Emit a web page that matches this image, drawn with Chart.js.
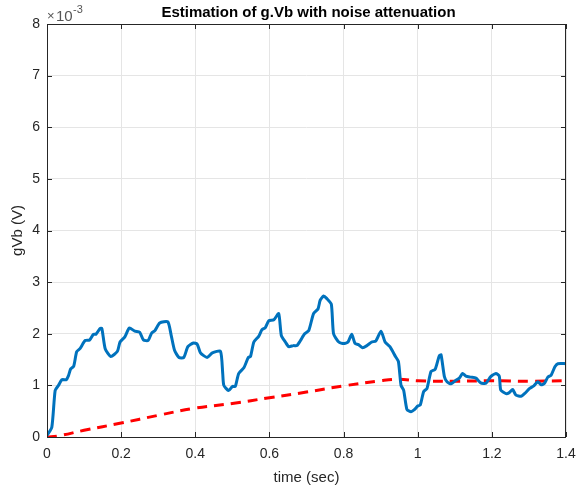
<!DOCTYPE html>
<html lang="en">
<head>
    <meta charset="UTF-8">
    <title>Estimation of g.Vb</title>
    <script src="https://cdn.jsdelivr.net/npm/chart.js"></script>
    <style>
        html, body { margin: 0; padding: 0; background: #ffffff; }
        #wrap { width: 578px; height: 490px; }
    </style>
</head>
<body>
    <div id="wrap"><canvas id="myChart" width="578" height="490"></canvas></div>
    <script>
        // values are in units of 1e-3 V (axis shows x10^-3)
        const timeBlue = [0, 0.013, 0.022, 0.031, 0.04, 0.052, 0.058, 0.064, 0.072, 0.08, 0.089, 0.103, 0.115, 0.125, 0.132, 0.143, 0.148, 0.157, 0.172, 0.19,
            0.197, 0.21, 0.222, 0.237, 0.25, 0.26, 0.273, 0.282, 0.291, 0.304, 0.326, 0.335, 0.344, 0.356, 0.369, 0.38, 0.395, 0.405, 0.414, 0.432,
            0.446, 0.468, 0.474, 0.477, 0.49, 0.5, 0.508, 0.517, 0.531, 0.543, 0.549, 0.558, 0.571, 0.58, 0.589, 0.598, 0.612, 0.625, 0.632, 0.643,
            0.652, 0.665, 0.674, 0.683, 0.695, 0.706, 0.719, 0.731, 0.737, 0.746, 0.755, 0.767, 0.773, 0.787, 0.8, 0.812, 0.822, 0.831, 0.84, 0.851,
            0.863, 0.876, 0.887, 0.901, 0.912, 0.925, 0.94, 0.948, 0.955, 0.962, 0.971, 0.982, 0.991, 1.0, 1.007, 1.016, 1.025, 1.036, 1.047, 1.058,
            1.063, 1.072, 1.079, 1.09, 1.103, 1.112, 1.121, 1.13, 1.143, 1.157, 1.17, 1.184, 1.197, 1.211, 1.22, 1.224, 1.238, 1.247, 1.256, 1.265,
            1.279, 1.288, 1.302, 1.313, 1.324, 1.333, 1.342, 1.351, 1.36, 1.37, 1.378, 1.4];
        const gvbBlue = [0.03, 0.19, 0.9, 1.0, 1.11, 1.11, 1.19, 1.32, 1.37, 1.65, 1.71, 1.87, 1.88, 1.99, 1.99, 2.1, 2.1, 1.71, 1.56, 1.66,
            1.84, 1.94, 2.11, 2.05, 2.03, 1.88, 1.87, 2.01, 2.06, 2.21, 2.23, 1.97, 1.68, 1.54, 1.54, 1.75, 1.82, 1.8, 1.63, 1.54,
            1.63, 1.66, 1.23, 1.0, 0.9, 0.98, 0.98, 1.23, 1.34, 1.54, 1.56, 1.84, 1.95, 2.08, 2.12, 2.25, 2.27, 2.39, 1.97, 1.84,
            1.75, 1.77, 1.77, 1.86, 2.0, 2.06, 2.39, 2.48, 2.65, 2.73, 2.68, 2.57, 2.0, 1.84, 1.81, 1.84, 1.99, 1.81, 1.79, 1.73,
            1.77, 1.84, 1.86, 2.05, 1.84, 1.75, 1.56, 1.46, 1.0, 0.91, 0.53, 0.49, 0.53, 0.6, 0.62, 0.88, 0.94, 1.27, 1.31, 1.57,
            1.59, 1.17, 1.07, 1.03, 1.1, 1.14, 1.23, 1.18, 1.16, 1.14, 1.05, 1.04, 1.17, 1.23, 1.18, 0.91, 0.84, 0.86, 0.92, 0.81,
            0.79, 0.84, 0.94, 0.99, 1.07, 1.01, 1.04, 1.16, 1.2, 1.36, 1.42, 1.42];

        const timeRed = [0, 0.03, 0.1, 0.2, 0.3, 0.4, 0.5, 0.6, 0.7, 0.8, 0.9, 0.95, 1.0, 1.1, 1.2, 1.3, 1.4];
        const gvbRed = [0, 0.02, 0.13, 0.27, 0.42, 0.56, 0.65, 0.76, 0.87, 0.99, 1.09, 1.12, 1.09, 1.08, 1.09, 1.08, 1.09];

        const xTicks = [0, 0.2, 0.4, 0.6, 0.8, 1, 1.2, 1.4];
        const yTicks = [0, 1, 2, 3, 4, 5, 6, 7, 8];

        const titleText = 'Estimation of g.Vb with noise attenuation';
        const xLabel = 'time (sec)';
        const yLabel = 'gVb (V)';

        const FONT = '"Liberation Sans", Arial, sans-serif';
        const TXT = '#262626';

        function pts(xs, ys) {
            return xs.map((x, i) => ({ x: x, y: ys[i] }));
        }

        // box, inward ticks, titles and exponent
        const matlabLook = {
            id: 'matlabLook',
            afterDraw(chart) {
                const c = chart.ctx;
                const a = chart.chartArea;
                const xs = chart.scales.x, ys = chart.scales.y;
                c.save();
                c.strokeStyle = TXT;
                c.lineWidth = 1;
                c.beginPath();
                xTicks.forEach(t => {
                    const p = Math.round(xs.getPixelForValue(t)) + 0.5;
                    c.moveTo(p, a.bottom); c.lineTo(p, a.bottom - 5);
                    c.moveTo(p, a.top); c.lineTo(p, a.top + 5);
                });
                yTicks.forEach(t => {
                    const p = Math.round(ys.getPixelForValue(t)) + 0.5;
                    c.moveTo(a.left, p); c.lineTo(a.left + 5, p);
                    c.moveTo(a.right, p); c.lineTo(a.right - 5, p);
                });
                c.stroke();
                c.strokeRect(Math.round(a.left) + 0.5, Math.round(a.top) + 0.5,
                    Math.round(a.right - a.left) - 1, Math.round(a.bottom - a.top));

                const cx = (a.left + a.right) / 2;
                c.fillStyle = '#000';
                c.textAlign = 'center';
                c.textBaseline = 'middle';
                c.font = 'bold 15px ' + FONT;
                c.fillText(titleText, cx + 2, 13);

                c.fillStyle = TXT;
                c.font = '15px ' + FONT;
                c.fillText(xLabel, cx, 478);

                c.save();
                c.translate(18, (a.top + a.bottom) / 2);
                c.rotate(-Math.PI / 2);
                c.fillText(yLabel, 0, 0);
                c.restore();

                c.fillStyle = '#555';
                c.textAlign = 'left';
                c.textBaseline = 'alphabetic';
                c.font = '13px ' + FONT;
                c.fillText('\u00d7', a.left, 20);
                c.font = '15px ' + FONT;
                c.fillText('10', a.left + 9, 21);
                c.font = '11px ' + FONT;
                c.fillText('-3', a.left + 26, 13);
                c.restore();
            }
        };

        const ctx = document.getElementById('myChart').getContext('2d');
        const myChart = new Chart(ctx, {
            type: 'line',
            data: {
                datasets: [{
                    label: 'estimate',
                    data: pts(timeBlue, gvbBlue),
                    borderColor: '#0072BD',
                    borderWidth: 3,
                    pointRadius: 0,
                    tension: 0.2,
                    fill: false
                }, {
                    label: 'reference',
                    data: pts(timeRed, gvbRed),
                    borderColor: '#FF0000',
                    borderWidth: 3,
                    borderDash: [10, 7],
                    pointRadius: 0,
                    tension: 0.4,
                    fill: false
                }]
            },
            options: {
                responsive: false,
                animation: false,
                layout: { padding: { left: 0, right: 12, top: 24, bottom: 0 } },
                plugins: { legend: { display: false }, tooltip: { enabled: false } },
                scales: {
                    x: {
                        type: 'linear',
                        min: 0, max: 1.4,
                        afterBuildTicks: s => { s.ticks = xTicks.map(v => ({ value: v })); },
                        afterFit: s => { s.height = 53; s.paddingLeft = 0; s.paddingRight = 0; },
                        grid: { color: '#e5e5e5', drawTicks: false },
                        border: { display: false },
                        ticks: {
                            padding: 9,
                            color: TXT,
                            font: { family: FONT, size: 14 },
                            maxRotation: 0,
                            callback: v => String(v)
                        }
                    },
                    y: {
                        min: 0, max: 8,
                        afterBuildTicks: s => { s.ticks = yTicks.map(v => ({ value: v })); },
                        afterFit: s => { s.width = 47; s.paddingTop = 0; s.paddingBottom = 0; },
                        grid: { color: '#e5e5e5', drawTicks: false },
                        border: { display: false },
                        ticks: {
                            padding: 7,
                            color: TXT,
                            font: { family: FONT, size: 14 },
                            callback: v => String(v)
                        }
                    }
                }
            },
            plugins: [matlabLook]
        });
    </script>
</body>
</html>
